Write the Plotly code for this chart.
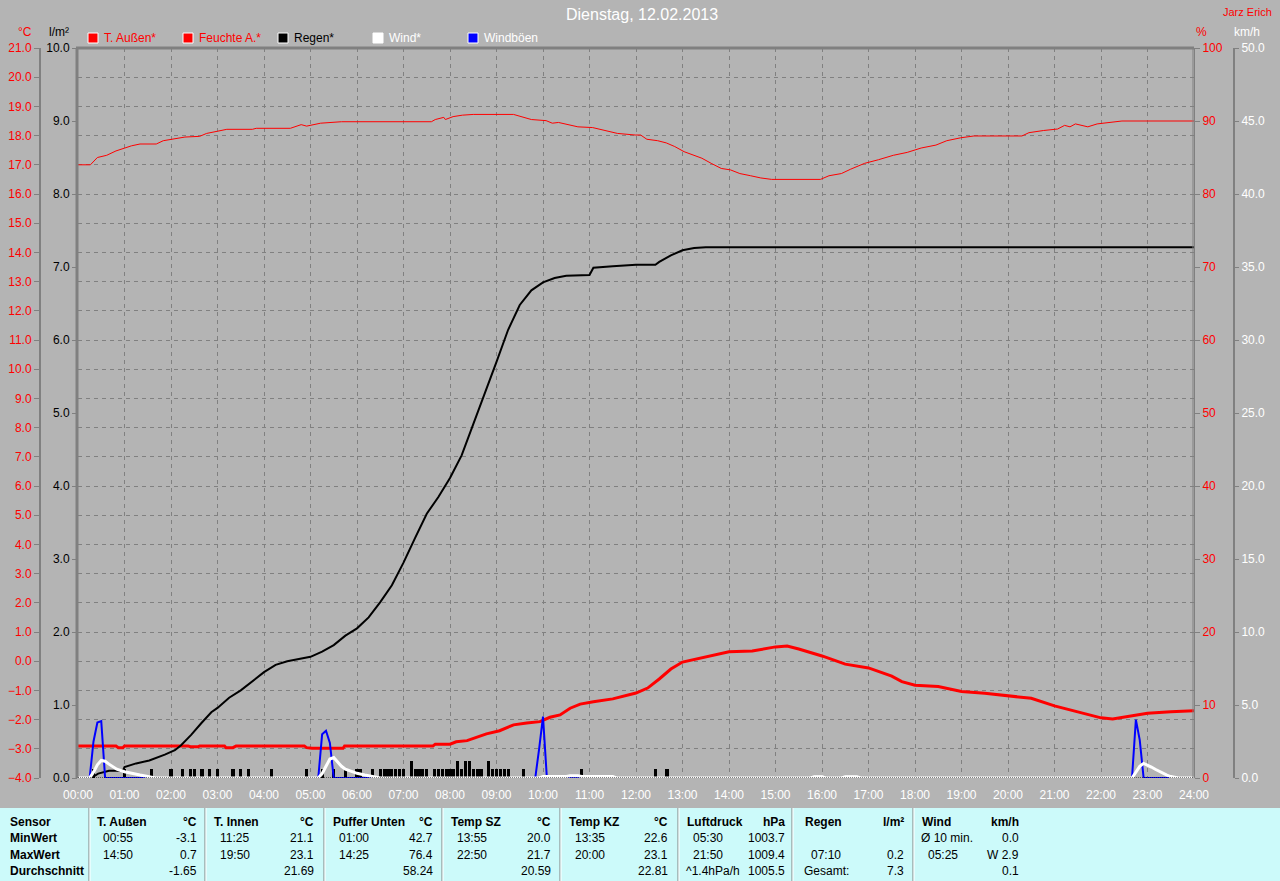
"""Tagesgrafik der Wetterstation (12.02.2013) als Plotly-Diagramm."""

import plotly.graph_objects as go

W, H = 1280, 881
FONT = "Liberation Sans, Arial, sans-serif"
BG = "#b4b4b4"
GRID = "#808080"

# --- T. Außen (°C) ---------------------------------------------------
temp_times = ["00:00", "00:49", "00:52", "00:58", "01:00", "02:22", "02:25", "02:35", "02:37",
              "03:09", "03:11", "03:20", "03:24", "04:52", "04:55", "05:02", "05:42", "05:44",
              "07:38", "07:41", "08:00", "08:08", "08:22", "08:34", "08:47", "09:04", "09:22",
              "09:39", "09:56", "10:09", "10:22", "10:35", "10:48", "11:05", "11:18", "11:30",
              "12:00", "12:15", "12:30", "12:45", "13:00", "13:30", "14:00", "14:30", "14:50",
              "15:00", "15:15", "15:30", "16:00", "16:30", "17:00", "17:30", "17:43", "18:00",
              "18:30", "19:00", "19:30", "20:00", "20:30", "21:00", "21:30", "22:00", "22:15",
              "22:30", "23:00", "23:30", "24:00"]
temp_values = [-2.9, -2.9, -2.96, -2.96, -2.9, -2.9, -2.93, -2.93, -2.9,
               -2.9, -2.96, -2.96, -2.9, -2.9, -2.96, -2.98, -2.98, -2.9,
               -2.9, -2.84, -2.84, -2.76, -2.72, -2.61, -2.49, -2.38, -2.18,
               -2.12, -2.07, -1.92, -1.84, -1.61, -1.47, -1.39, -1.33, -1.29,
               -1.09, -0.92, -0.61, -0.27, -0.03, 0.14, 0.32, 0.35, 0.45,
               0.49, 0.52, 0.42, 0.18, -0.1, -0.23, -0.51, -0.70, -0.82,
               -0.87, -1.04, -1.1, -1.19, -1.27, -1.53, -1.73, -1.94, -1.98,
               -1.92, -1.78, -1.73, -1.7]

# --- Feuchte A. (%) --------------------------------------------------
hum_times = ["00:00", "00:16", "00:25", "00:37", "00:49", "01:00", "01:09", "01:20", "01:41",
             "01:50", "02:00", "02:18", "02:37", "02:46", "03:00", "03:12", "03:45", "03:50",
             "04:34", "04:48", "04:55", "05:13", "05:40", "07:36", "07:41", "07:52", "07:54",
             "08:04", "08:16", "08:30", "09:22", "09:31", "09:45", "10:04", "10:12", "10:20",
             "10:31", "10:45", "11:04", "11:22", "11:36", "11:59", "12:06", "12:14", "12:28",
             "12:39", "12:50", "13:02", "13:14", "13:25", "13:37", "13:50", "14:02", "14:14",
             "14:28", "14:41", "14:55", "15:58", "16:09", "16:25", "16:37", "16:55", "17:13",
             "17:32", "17:50", "18:08", "18:27", "18:41", "18:59", "19:16", "20:18", "20:27",
             "20:46", "21:04", "21:13", "21:20", "21:27", "21:43", "21:55", "22:08", "22:27",
             "24:00"]
hum_values = [84.0, 84.0, 85.0, 85.3, 85.9, 86.3, 86.6, 86.85, 86.85,
              87.3, 87.5, 87.8, 87.9, 88.3, 88.6, 88.86, 88.86, 89.0,
              89.0, 89.5, 89.3, 89.7, 89.9, 89.9, 90.2, 90.5, 90.2,
              90.6, 90.8, 90.9, 90.9, 90.6, 90.2, 90.05, 89.7, 89.8,
              89.5, 89.2, 89.1, 88.7, 88.3, 88.08, 88.08, 87.5, 87.3,
              87.0, 86.5, 85.8, 85.3, 84.9, 84.2, 83.5, 83.3, 82.8,
              82.5, 82.2, 82.0, 82.0, 82.5, 82.8, 83.4, 84.2, 84.7,
              85.3, 85.7, 86.3, 86.7, 87.3, 87.7, 87.95, 87.95, 88.4,
              88.7, 88.9, 89.4, 89.2, 89.6, 89.2, 89.6, 89.8, 90.0,
              90.0]

# --- Regen (l/m², Summe) ---------------------------------------------
rain_times = ["00:00", "00:17", "00:26", "00:40", "00:58", "01:00", "01:15", "01:32", "01:52",
              "02:05", "02:13", "02:26", "02:39", "02:52", "03:00", "03:15", "03:30", "03:45",
              "04:00", "04:15", "04:30", "04:45", "05:00", "05:15", "05:30", "05:45", "06:00",
              "06:15", "06:30", "06:45", "07:00", "07:15", "07:30", "07:45", "08:00", "08:15",
              "08:30", "08:45", "09:00", "09:15", "09:30", "09:45", "10:00", "10:15", "10:30",
              "11:00", "11:05", "11:30", "12:00", "12:25", "12:30", "12:45", "13:00", "13:15",
              "13:30", "24:00"]
rain_values = [0, 0, 0.06, 0.1, 0.1, 0.15, 0.2, 0.24, 0.32,
               0.38, 0.45, 0.59, 0.75, 0.9, 0.96, 1.1, 1.2, 1.32,
               1.45, 1.55, 1.6, 1.63, 1.66, 1.73, 1.82, 1.95, 2.05,
               2.2, 2.41, 2.64, 2.95, 3.29, 3.62, 3.85, 4.11, 4.42,
               4.84, 5.27, 5.7, 6.14, 6.48, 6.68, 6.79, 6.85, 6.88,
               6.89, 6.99, 7.01, 7.03, 7.03, 7.07, 7.16, 7.23, 7.26,
               7.27, 7.27]

# --- Regen je Intervall (l/m²) ---------------------------------------
bar_times = ["00:20", "01:00", "01:35", "02:00", "02:15", "02:25", "02:30", "02:40", "02:50",
             "03:00", "03:20", "03:30", "03:40", "04:10", "04:55", "05:15", "05:30", "05:45",
             "06:00", "06:05", "06:20", "06:30", "06:35", "06:40", "06:45", "06:50", "06:55",
             "07:00", "07:10", "07:15", "07:20", "07:25", "07:30", "07:40", "07:45", "07:50",
             "07:55", "08:00", "08:05", "08:10", "08:15", "08:20", "08:25", "08:30", "08:35",
             "08:40", "08:50", "08:55", "09:00", "09:05", "09:10", "09:15", "09:35", "10:50",
             "12:25", "12:40"]
bar_values = [0.12, 0.12, 0.12, 0.12, 0.12, 0.12, 0.12, 0.12, 0.12,
              0.12, 0.12, 0.12, 0.12, 0.12, 0.12, 0.12, 0.12, 0.12,
              0.12, 0.12, 0.12, 0.12, 0.12, 0.12, 0.12, 0.12, 0.12,
              0.12, 0.23, 0.12, 0.12, 0.12, 0.12, 0.12, 0.12, 0.12,
              0.12, 0.12, 0.12, 0.23, 0.12, 0.23, 0.23, 0.12, 0.12,
              0.12, 0.23, 0.12, 0.12, 0.12, 0.12, 0.12, 0.12, 0.12,
              0.12, 0.12]

# --- Wind (km/h) -----------------------------------------------------
wind_times = ["00:00", "00:15", "00:20", "00:25", "00:30", "00:35", "00:40", "00:45", "00:50",
              "01:00", "01:10", "01:20", "01:30", "01:40", "05:10", "05:15", "05:20", "05:25",
              "05:30", "05:35", "05:40", "05:45", "05:50", "06:00", "06:10", "06:20", "06:30",
              "09:55", "10:00", "10:30", "10:35", "10:45", "10:50", "11:30", "11:35", "15:45",
              "15:50", "16:00", "16:05", "16:25", "16:30", "16:45", "16:50", "22:40", "22:45",
              "22:50", "22:55", "23:00", "23:05", "23:10", "23:15", "23:20", "23:25", "23:30",
              "23:40", "24:00"]
wind_values = [0, 0, 0.4, 0.9, 1.2, 1.15, 0.95, 0.75, 0.6,
               0.43, 0.3, 0.2, 0.1, 0, 0, 0.3, 0.8, 1.3,
               1.4, 1.1, 0.8, 0.6, 0.5, 0.32, 0.2, 0.08, 0,
               0, 0.1, 0.1, 0.15, 0.15, 0.1, 0.1, 0, 0,
               0.08, 0.08, 0, 0, 0.08, 0.08, 0, 0, 0.4,
               0.8, 1.0, 0.9, 0.75, 0.6, 0.45, 0.3, 0.2, 0.1,
               0, 0]

# --- Windböen (km/h) -------------------------------------------------
gust_times = ["00:00", "00:15", "00:20", "00:25", "00:30", "00:35", "05:10", "05:15", "05:20",
              "05:25", "05:30", "09:50", "09:55", "10:00", "10:05", "22:40", "22:45", "22:50",
              "22:55", "24:00"]
gust_values = [0, 0, 2.5, 3.8, 3.9, 0, 0, 3.0, 3.24,
               2.4, 0, 0, 2.0, 4.2, 0, 0, 4.0, 2.6,
               0, 0]

# --- Tabelle ---------------------------------------------------------
row_labels = ["Sensor", "MinWert", "MaxWert", "Durchschnitt"]
table_headers = ["T. Außen", "T. Innen", "Puffer Unten", "Temp SZ", "Temp KZ", "Luftdruck", "Regen", "Wind"]
table_units = ["°C", "°C", "°C", "°C", "°C", "hPa", "l/m²", "km/h"]
table_min_time = ["00:55", "11:25", "01:00", "13:55", "13:35", "05:30", "", "Ø 10 min."]
table_min_val = ["-3.1", "21.1", "42.7", "20.0", "22.6", "1003.7", "", "0.0"]
table_max_time = ["14:50", "19:50", "14:25", "22:50", "20:00", "21:50", "07:10", "05:25"]
table_max_val = ["0.7", "23.1", "76.4", "21.7", "23.1", "1009.4", "0.2", "W 2.9"]
table_avg_time = ["", "", "", "", "", "^1.4hPa/h", "Gesamt:", ""]
table_avg_val = ["-1.65", "21.69", "58.24", "20.59", "22.81", "1005.5", "7.3", "0.1"]

legend_names = ["T. Außen*", "Feuchte A.*", "Regen*", "Wind*", "Windböen"]
legend_fill = ["#ff0000", "#ff0000", "#000000", "#ffffff", "#0000ff"]
legend_font = ["#ff0000", "#ff0000", "#000000", "#ffffff", "#ffffff"]


def hrs(times):
    """'HH:MM' -> Stunden als float."""
    out = []
    for t in times:
        h, m = t.split(":")
        out.append(int(h) + int(m) / 60)
    return out


def px(x):
    return x / W


def py(y):
    return 1 - y / H


def text(fig, x, y, s, color="black", size=12, anchor="left", bold=False):
    if bold:
        s = f"<b>{s}</b>"
    fig.add_annotation(x=px(x), y=py(y), xref="paper", yref="paper", text=s, showarrow=False,
                       xanchor=anchor, yanchor="middle", font=dict(family=FONT, size=size, color=color))


fig = go.Figure()

fig.add_trace(go.Bar(x=hrs(bar_times), y=bar_values, yaxis="y2", width=0.065,
                     marker=dict(color="black", line=dict(width=0)), name="Regen Intervall"))
fig.add_trace(go.Scatter(x=hrs(rain_times), y=rain_values, yaxis="y2", mode="lines",
                         line=dict(color="black", width=2), name="Regen*"))
fig.add_trace(go.Scatter(x=hrs(hum_times), y=hum_values, yaxis="y3", mode="lines",
                         line=dict(color="#ff0000", width=1), name="Feuchte A.*"))
fig.add_trace(go.Scatter(x=hrs(temp_times), y=temp_values, yaxis="y", mode="lines",
                         line=dict(color="#ff0000", width=3), name="T. Außen*"))
fig.add_trace(go.Scatter(x=hrs(gust_times), y=gust_values, yaxis="y4", mode="lines",
                         line=dict(color="#0000ff", width=2), name="Windböen"))
fig.add_trace(go.Scatter(x=hrs(wind_times), y=wind_values, yaxis="y4", mode="lines",
                         line=dict(color="white", width=3), name="Wind*"))

x_dom = [px(78), px(1194)]
y_dom = [py(778), py(48)]
tick_font = dict(family=FONT, size=12)

fig.update_layout(
    width=W, height=H,
    margin=dict(l=0, r=0, t=0, b=0, pad=0),
    paper_bgcolor=BG, plot_bgcolor=BG,
    showlegend=False,
    bargap=0,
    xaxis=dict(domain=x_dom, range=[0, 24], tickvals=list(range(25)),
               ticktext=[f"{h:02d}:00" for h in range(25)],
               tickfont=dict(tick_font, color="white"), ticks="", ticklabelstandoff=8,
               showgrid=True, gridcolor=GRID, griddash="4px,4px", gridwidth=1,
               showline=False, zeroline=False, anchor="y", automargin=False),
    yaxis=dict(domain=y_dom, range=[-4, 21], dtick=1, tickformat=".1f",
               anchor="free", position=px(40), side="left", automargin=False,
               tickfont=dict(tick_font, color="#ff0000"),
               showline=True, linecolor=GRID, linewidth=2,
               ticks="outside", ticklen=5, tickcolor=GRID,
               showgrid=True, gridcolor=GRID, griddash="4px,4px", gridwidth=1, zeroline=False),
    yaxis2=dict(domain=y_dom, range=[0, 10], dtick=1, tickformat=".1f",
                overlaying="y", anchor="x", side="left", automargin=False,
                tickfont=dict(tick_font, color="black"),
                showline=False, ticks="outside", ticklen=5, tickcolor=GRID,
                showgrid=False, zeroline=False),
    yaxis3=dict(domain=y_dom, range=[0, 100], dtick=10,
                overlaying="y", anchor="x", side="right", automargin=False,
                tickfont=dict(tick_font, color="#ff0000"),
                showline=True, linecolor=GRID, linewidth=1,
                ticks="outside", ticklen=5, tickcolor=GRID,
                showgrid=False, zeroline=False),
    yaxis4=dict(domain=y_dom, range=[0, 50], dtick=5, tickformat=".1f",
                overlaying="y", anchor="free", position=px(1234), side="right", automargin=False,
                tickfont=dict(tick_font, color="white"),
                showline=True, linecolor=GRID, linewidth=2,
                ticks="outside", ticklen=4, tickcolor=GRID,
                showgrid=False, zeroline=False),
)

shapes = [
    # Rahmen oben / links / rechts
    dict(type="line", xref="paper", yref="paper", x0=px(76), x1=px(1194), y0=py(48), y1=py(48),
         line=dict(color=GRID, width=3)),
    dict(type="line", xref="paper", yref="paper", x0=px(77), x1=px(77), y0=py(48), y1=py(778),
         line=dict(color=GRID, width=3)),
    dict(type="line", xref="paper", yref="paper", x0=px(1193), x1=px(1193), y0=py(48), y1=py(778),
         line=dict(color=GRID, width=1)),
    # Nulllinie gepunktet
    dict(type="line", xref="x", yref="y2", x0=0, x1=24, y0=0, y1=0, layer="above",
         line=dict(color="black", width=1, dash="1px,1px")),
    # Tabelle
    dict(type="rect", xref="paper", yref="paper", x0=0, x1=1, y0=0, y1=py(808),
         fillcolor="#ccfafa", line=dict(width=0)),
]
for sx in [89, 205, 324, 442, 560, 678, 792, 913]:
    shapes.append(dict(type="line", xref="paper", yref="paper", x0=px(sx), x1=px(sx),
                       y0=py(808), y1=0, line=dict(color=GRID, width=1)))
    shapes.append(dict(type="line", xref="paper", yref="paper", x0=px(sx + 1), x1=px(sx + 1),
                       y0=py(808), y1=0, line=dict(color="white", width=1)))

# Legende als Kästchen
for i, (name, fill, fc) in enumerate(zip(legend_names, legend_fill, legend_font)):
    x0 = 88 + 95 * i
    shapes.append(dict(type="rect", xref="paper", yref="paper", x0=px(x0), x1=px(x0 + 10),
                       y0=py(43), y1=py(33), fillcolor=fill, line=dict(color="white", width=1)))
    text(fig, x0 + 14, 38, name, color=fc)
fig.update_layout(shapes=shapes)

# Titel und Achsenbeschriftungen
text(fig, 642, 15, "Dienstag, 12.02.2013", color="white", size=16, anchor="center")
text(fig, 1274, 12, "Jarz Erich", color="#ff0000", size=11, anchor="right")
text(fig, 25, 32, "°C", color="#ff0000", anchor="center")
text(fig, 59, 32, "l/m²", color="black", anchor="center")
text(fig, 1201, 32, "%", color="#ff0000", anchor="center")
text(fig, 1247, 32, "km/h", color="white", anchor="center")

# Tabelle füllen
row_y = [822, 838, 855, 871]
for lbl, ry in zip(row_labels, row_y):
    text(fig, 8, ry, lbl, bold=True)

col_left = [95, 212, 331, 449, 567, 685, 803, 920]
col_right = [199, 316, 435, 553, 670, 787, 906, 1021]
rows = [(table_min_time, table_min_val), (table_max_time, table_max_val), (table_avg_time, table_avg_val)]
for c in range(len(table_headers)):
    text(fig, col_left[c], row_y[0], table_headers[c], bold=True)
    text(fig, col_right[c], row_y[0], table_units[c], bold=True, anchor="right")
    for (times, vals), ry in zip(rows, row_y[1:]):
        t = times[c]
        if t:
            tx = col_left[c] + 6 if (len(t) == 5 and t[2] == ":") else col_left[c] - 1
            text(fig, tx, ry, t)
        if vals[c]:
            text(fig, col_right[c], ry, vals[c], anchor="right")

fig.write_html("out.html", config={"displayModeBar": False},
               post_script="document.body.style.margin='0';")
